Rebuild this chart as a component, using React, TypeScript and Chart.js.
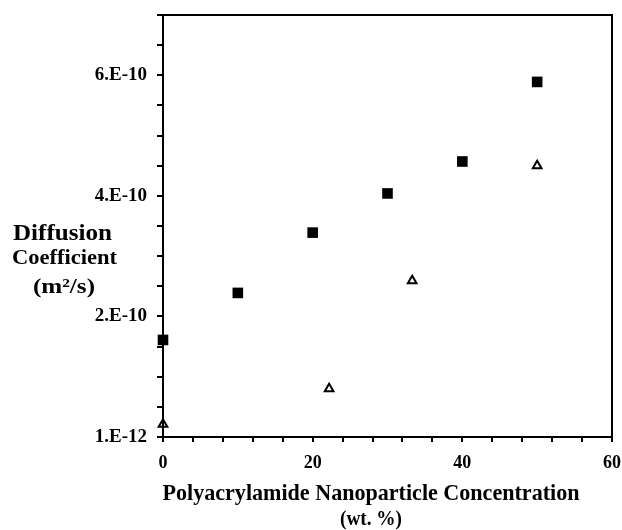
import React, { useEffect, useRef } from 'react';
import { Chart, registerables } from 'chart.js';

Chart.register(...registerables);

// Data
const squareConcentration = [0, 10, 20, 30, 40, 50];
const squareDiffusion = [1.62e-10, 2.4e-10, 3.4e-10, 4.05e-10, 4.58e-10, 5.9e-10];
const triangleConcentration = [0, 22.2, 33.3, 50];
const triangleDiffusion = [2.2e-11, 8.1e-11, 2.6e-10, 4.51e-10];

const xTickLabels = ['0', '20', '40', '60'];
const yTickLabels = ['1.E-12', '2.E-10', '4.E-10', '6.E-10'];

const FONT = "'Liberation Serif', 'Times New Roman', serif";

function drawFit(ctx: CanvasRenderingContext2D, text: string, size: number, cx: number, baseline: number, width: number) {
  ctx.save();
  ctx.font = `bold ${size}px ${FONT}`;
  ctx.textAlign = 'left';
  ctx.textBaseline = 'alphabetic';
  ctx.fillStyle = '#000';
  const w = ctx.measureText(text).width;
  ctx.translate(cx, baseline);
  ctx.scale(width / w, 1);
  ctx.fillText(text, -w / 2, 0);
  ctx.restore();
}

const framePlugin = {
  id: 'frameAndTitles',
  afterDraw(chart: any) {
    const { ctx, chartArea: a } = chart;
    ctx.save();
    ctx.strokeStyle = '#000';
    ctx.lineWidth = 2;
    ctx.strokeRect(a.left, a.top, a.right - a.left, a.bottom - a.top);
    ctx.restore();
    drawFit(ctx, 'Diffusion', 23, 62.5, 240, 99);
    drawFit(ctx, 'Coefficient', 20, 64.5, 264, 105);
    drawFit(ctx, '(m\u00B2/s)', 22, 64, 293, 62);
    drawFit(ctx, 'Polyacrylamide Nanoparticle Concentration', 24, 371, 500, 417);
    drawFit(ctx, '(wt. %)', 22, 371, 525, 62);
  },
};

export default function App() {
  const canvasRef = useRef<HTMLCanvasElement | null>(null);

  useEffect(() => {
    const canvas = canvasRef.current;
    if (!canvas) return;
    const chart = new Chart(canvas, {
      type: 'scatter',
      data: {
        datasets: [
          {
            label: 'squares',
            data: squareConcentration.map((x, i) => ({ x, y: squareDiffusion[i] })),
            pointStyle: 'rect',
            pointRadius: 7.5,
            pointHoverRadius: 7.5,
            backgroundColor: '#000',
            borderColor: '#000',
            borderWidth: 0,
            showLine: false,
            clip: false,
          },
          {
            label: 'triangles',
            data: triangleConcentration.map((x, i) => ({ x, y: triangleDiffusion[i] })),
            pointStyle: 'triangle',
            pointRadius: 5,
            pointHoverRadius: 5,
            backgroundColor: '#fff',
            borderColor: '#000',
            borderWidth: 2,
            showLine: false,
            clip: false,
          },
        ],
      },
      options: {
        animation: false,
        responsive: true,
        maintainAspectRatio: false,
        layout: { padding: { top: 15, right: 10, left: 0, bottom: 0 } },
        plugins: {
          legend: { display: false },
          tooltip: { enabled: false },
        },
        scales: {
          x: {
            type: 'linear',
            min: 0,
            max: 60,
            afterBuildTicks: (scale: any) => {
              const t = [];
              for (let i = 0; i <= 15; i++) t.push({ value: i * 4 });
              scale.ticks = t;
            },
            afterFit: (scale: any) => {
              scale.height = 93;
            },
            ticks: {
              autoSkip: false,
              maxRotation: 0,
              padding: 0,
              color: '#000',
              font: { family: FONT, size: 18, weight: 'bold', lineHeight: '42px' },
              callback: (_v: any, i: number) => (i % 5 === 0 ? xTickLabels[i / 5] : ''),
            },
            grid: {
              drawOnChartArea: false,
              drawTicks: true,
              tickLength: 5,
              color: '#000',
              lineWidth: 2,
            },
            border: { display: true, color: '#000', width: 2 },
          },
          y: {
            type: 'linear',
            min: 1e-12,
            max: 7.01e-10,
            afterBuildTicks: (scale: any) => {
              const t = [];
              for (let i = 0; i <= 14; i++) t.push({ value: 1e-12 + i * 5e-11 });
              scale.ticks = t;
            },
            afterFit: (scale: any) => {
              scale.width = 163;
            },
            ticks: {
              autoSkip: false,
              padding: 10,
              color: '#000',
              font: { family: FONT, size: 19, weight: 'bold', lineHeight: '8px' },
              callback: (_v: any, i: number) => (i % 4 === 0 ? yTickLabels[i / 4] : ''),
            },
            grid: {
              drawOnChartArea: false,
              drawTicks: true,
              tickLength: 6,
              color: '#000',
              lineWidth: 2,
            },
            border: { display: true, color: '#000', width: 2 },
          },
        },
      },
      plugins: [framePlugin],
    } as any);
    return () => chart.destroy();
  }, []);

  return (
    <div style={{ position: 'fixed', left: 0, top: 0, width: 622, height: 530, background: '#fff' }}>
      <canvas ref={canvasRef} />
    </div>
  );
}
